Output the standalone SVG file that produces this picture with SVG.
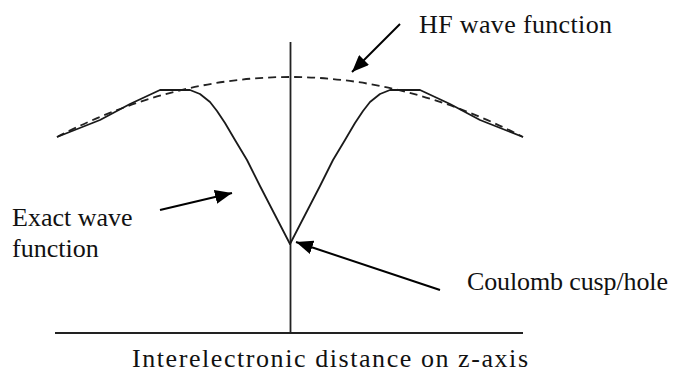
<svg xmlns="http://www.w3.org/2000/svg" width="678" height="372" viewBox="0 0 678 372">
<style>
.txt{font-family:'Liberation Serif','Times New Roman',Tinos,'Noto Serif','DejaVu Serif','Nimbus Roman','FreeSerif',Times,serif;font-size:26px;fill:#111}
.ax{stroke:#222;stroke-width:1.8;fill:none}
.curve{stroke:#1a1a1a;stroke-width:1.8;fill:none;stroke-linejoin:round}
.dash{stroke:#222;stroke-width:1.8;fill:none;stroke-dasharray:8 5}
.arr{stroke:#000;stroke-width:2;fill:none}
</style>
<defs>
<marker id="ah" markerUnits="userSpaceOnUse" markerWidth="18" markerHeight="14" refX="17" refY="7" orient="auto">
<path d="M0,0 L17,7 L0,14 z" fill="#000"/>
</marker>
</defs>
<g id="axes">
<line class="ax" x1="55" y1="333" x2="523" y2="333"/>
<line class="ax" x1="290.5" y1="42" x2="290.5" y2="333"/>
</g>
<g id="hf-curve">
<path class="dash" d="M57,137 Q290,17 523,137"/>
</g>
<g id="exact-curve">
<polyline class="curve" points="57,137 100,120 130,104 160,90 190,90 200,94 210,102 217,111 225,123 235,140 247,160 260,186 275,215 290,244 305,215 320,186 333,160 345,140 355,123 363,111 370,102 380,94 390,90 420,90 450,104 480,120 523,137"/>
</g>
<g id="connectors">
<line class="arr" x1="400" y1="24" x2="352" y2="72" marker-end="url(#ah)"/>
<line class="arr" x1="160" y1="210" x2="232" y2="193" marker-end="url(#ah)"/>
<line class="arr" x1="440" y1="290" x2="296" y2="242" marker-end="url(#ah)"/>
</g>
<g id="label-hf"><text class="txt" x="419" y="33" textLength="193" lengthAdjust="spacing">HF wave function</text></g>
<g id="label-exact"><text class="txt" x="12" y="226">Exact wave</text><text class="txt" x="12" y="257">function</text></g>
<g id="label-coulomb"><text class="txt" x="467" y="290" textLength="201" lengthAdjust="spacing">Coulomb cusp/hole</text></g>
<g id="label-axis"><text class="txt" x="132" y="367" textLength="396" lengthAdjust="spacing">Interelectronic distance on z-axis</text></g>
</svg>
